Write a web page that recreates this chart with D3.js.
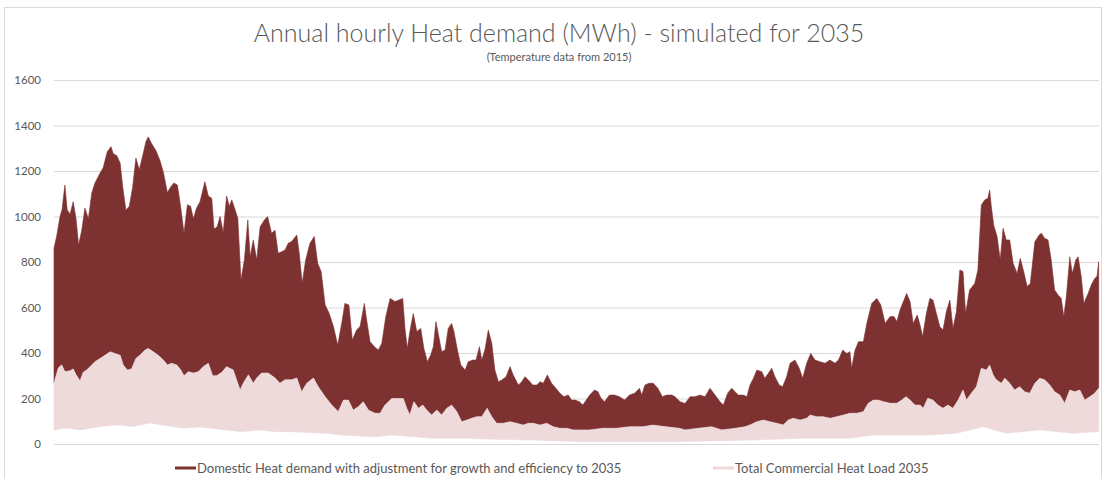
<!DOCTYPE html>
<html>
<head>
<meta charset="utf-8">
<script src="https://cdn.jsdelivr.net/npm/d3@7"></script>
<style>
  body { margin: 0; background: #fff; }
  svg { display: block; font-family: Lato, "Open Sans", sans-serif; }
</style>
</head>
<body>
<figure id="chart" style="margin:0;width:1103px;height:479px"></figure>
<script>
// values: [day of year, MWh]
// upper envelope of the domestic hourly series (daily peaks)
const domesticPeak = [
  [0,862],[0.9,911],[2.1,1000],[2.8,1030],[3.8,1138],[4.6,1030],[5.6,1010],[6.7,1065],[7.7,990],[8.6,875],[9.7,940],[10.8,1037],[12,990],[13.2,1103],[14.3,1147],[16.1,1191],[17.2,1215],[18.6,1285],[19.9,1307],[20.7,1276],[21.9,1268],[23.1,1235],[24,1131],[25.1,1028],[26.3,1045],[27.5,1131],[28.6,1257],[29.8,1206],[31,1268],[32.1,1329],[32.9,1350],[34.1,1320],[35.6,1290],[37,1246],[38.2,1195],[39.6,1106],[40.8,1131],[41.9,1147],[43.1,1138],[44.3,1037],[45.4,927],[46.6,1052],[47.7,1045],[48.7,990],[49.8,1037],[51,1065],[52.7,1153],[53.9,1090],[55.1,1080],[55.9,945],[57,955],[58,1000],[59.1,930],[60.3,1090],[61.2,1045],
  [62.1,1073],[63,1040],[64.2,992],[65.3,721],[66.5,809],[67.7,985],[68.5,823],[69.6,897],[70.8,809],[72,955],[73.5,985],[74.6,1000],[76,926],[77.2,940],[78.3,838],[79.5,845],[80.7,853],[81.8,882],[83,890],[84.8,919],[85.6,845],[86.7,707],[87.9,809],[89.4,882],[90.9,912],[92.1,794],[93.3,758],[94.7,611],[96.1,575],[97.6,516],[99.1,435],[100.5,531],[101.6,618],[103,611],[104.2,457],[105.7,501],[106.9,516],[108.4,618],[109.2,545],[110.4,450],[111.9,428],[113.3,413],[114.5,443],[115.9,560],[117.4,640],[119.1,626],[120.5,633],
  [121.8,640],[122.6,508],[123.4,420],[124.3,494],[125.5,574],[126.7,494],[128.1,508],[129.2,420],[130.4,362],[131.6,391],[132.5,428],[133.4,538],[134.2,486],[135.4,406],[136.6,413],[137.7,508],[138.9,530],[139.7,494],[140.9,413],[142.1,347],[143.6,325],[144.7,362],[146.3,369],[147.4,369],[148.6,428],[149.4,369],[150.5,413],[151.7,501],[152.9,443],[154,325],[155.2,274],[156.4,281],[157.9,296],[159.3,340],[160.4,303],[162.2,259],[163.4,274],[164.5,296],[165.7,281],[167.2,259],[168.6,259],[169.8,274],[170.9,267],[172.3,303],[173.8,267],[175.3,245],[176.7,223],[178.1,208],[179.6,215],[180.8,193],[182,193],[183.5,186],
  [184.7,171],[185.9,193],[187.1,215],[188.8,237],[190,230],[191.1,200],[192.3,186],[194,215],[195.8,215],[197.5,208],[199.3,193],[201,215],[202.8,223],[204.5,245],[205.3,215],[206.4,259],[207.8,267],[209.3,267],[210.9,245],[212.5,208],[214,215],[215.8,215],[216.9,208],[218.7,186],[220.4,178],[222.2,208],[223.9,208],[225.6,215],[227.4,208],[229.1,245],[230.9,215],[232.6,186],[233.8,171],[235.3,223],[236.7,245],[237.9,230],[239,215],[240.8,215],[242,208],[243.1,259],[244.3,289],
  [245.5,325],[247.2,318],[248.3,289],[249.5,311],[250.7,333],[251.8,296],[253.3,259],[254.5,252],[255.9,296],[257.1,355],[258.8,369],[260.3,333],[261.5,289],[262.9,355],[264.3,398],[265.8,369],[267.5,362],[269.3,355],[271,369],[272.8,355],[274,369],[275.5,413],[276.9,398],[278,406],[278.6,333],[279.8,413],[281,450],[282.7,450],[283.9,530],[285.6,618],[287.4,640],[288.8,611],[290.3,530],[292,560],[293.4,560],[294.4,538],[295.5,589],[296.9,633],[297.8,662],[299,626],[300.1,530],[301.5,567],[302.5,523],[303.4,472],
  [304.7,574],[305.9,640],[307,633],[308.2,574],[309.4,516],[310.5,501],[311.7,582],[312.9,633],[314,509],[315.2,582],[316.4,765],[317.5,758],[318.4,574],[319.8,677],[321.6,706],[322.7,765],[323.9,1051],[325.1,1073],[326.2,1080],[326.8,1117],[327.4,1043],[328.2,963],[329.4,912],[330.5,809],[331.5,948],[332.6,897],[333.8,897],[335,794],[336.4,750],[337.5,816],[338.7,758],[339.9,692],[341,706],[342.6,889],[344.1,919],[344.9,926],[346,904],[347.2,897],[348.3,809],[349.5,677],[350.7,655],[351.8,640],[352.7,560],[353.6,648],[354.8,823],[355.7,750],[356.9,809],[357.7,823],[358.8,736],[359.7,618],[361.2,662],[362.3,699],[363.5,728],[364.3,736],[364.9,801]
]

// upper envelope of the commercial hourly series
const commercialPeak = [
  [0,268],[1.5,334],[2.7,348],[3.8,318],[5.6,322],[6.7,330],[7.9,300],[9.1,278],[10.2,315],[11.4,325],[12.6,340],[14.3,362],[16.1,376],[17.8,390],[19.6,405],[21.3,398],[23.1,390],[24.2,347],[25.6,325],[27.1,330],[28.6,376],[30,390],[31.8,413],[32.9,420],[34.7,405],[36.4,390],[38.2,369],[39.6,347],[41.1,355],[42.9,347],[44.3,325],[45.4,300],[46.9,318],[48.7,312],[50.4,318],[52.1,340],[53.9,355],[55.4,300],[56.8,300],[58.6,315],[60.3,340],
  [62.6,325],[65,237],[66.1,267],[67.9,304],[69.6,267],[70.8,290],[72.5,312],[74.8,312],[77.2,290],[78.9,267],[80.7,282],[83,282],[84.8,290],[86.5,230],[88.3,267],[90.6,290],[92.3,252],[94.7,208],[97,171],[99.3,142],[101.1,193],[102.8,193],[104.5,149],[106.3,164],[108,186],[109.8,149],[112.1,135],[113.9,135],[115.6,171],[118,200],[120.3,200],
  [122,200],[123.2,157],[124.3,127],[125.7,186],[127.3,157],[128.8,171],[130.2,149],[131.9,127],[133.7,149],[135.4,127],[137.2,157],[138.9,171],[140.7,142],[142.4,98],[144.2,105],[145.9,113],[147.6,120],[149.4,120],[151.3,157],[152.9,120],[154.6,91],[156.9,91],[159.3,98],[161.6,91],[163.9,83],[165.7,91],[167.4,91],[169.8,83],[172.1,91],[174.4,76],[176.7,69],[179.1,69],[181.4,62],
  [187.1,62],[191.7,69],[196.4,69],[201,76],[205.7,76],[209.1,83],[213.7,76],[218.4,69],[220.4,62],[225,69],[229.7,76],[233.2,62],[237.9,69],[241.4,76],
  [243.1,84],[245.5,98],[247.8,105],[250.1,98],[252.4,91],[254.7,84],[256.5,105],[258.2,113],[260.6,105],[262.9,113],[264.1,127],[266.4,120],[268.7,120],[271.1,113],[273.4,120],[275.7,127],[278,135],[280.4,135],[282.7,142],[284.4,179],[286.2,193],[287.9,193],[289.7,186],[292,179],[294.4,179],[296.1,193],[297.6,208],[299,193],[300.7,171],[302.5,171],[303.6,157],
  [305.2,201],[307,193],[308.7,171],[310.5,157],[312.2,171],[314,157],[315.8,193],[317.5,237],[318.7,193],[320.4,223],[322.2,252],[323.9,333],[325.7,325],[326.8,347],[328,304],[329.1,282],[330.9,267],[332.1,289],[333.8,267],[335.5,237],[337.3,252],[339,230],[340.8,223],[342.6,267],[344.3,289],[346,282],[347.8,259],[349.5,230],[351.3,215],[353,179],[354.8,237],[356.5,230],[358.3,237],[360,193],[361.8,208],[363.5,223],[364.9,245]
]

// lower envelope of the commercial hourly series (night-time minima)
const commercialBase = [
  [0,62],[4.4,70],[9.1,62],[16.1,77],[21.9,84],[27.7,77],[33.5,92],[39.4,80],[45.2,70],[51,75],[56.8,66],
  [65.6,54],[71.4,62],[77.2,54],[83,54],[94.7,47],[100.5,40],[106.3,35],[112.1,32],[118,40],
  [132.5,25],[144.2,25],[155.8,20],[167.4,18],[183.5,10],[216.9,10],[244.5,18],
  [260.6,25],[278,25],[286.2,40],[295.5,40],[305.6,40],[315.2,47],[324.5,76],[332.6,47],[344.3,62],[355.9,47],[364.9,55]
]

const yTicks = [0, 200, 400, 600, 800, 1000, 1200, 1400, 1600]
const seriesNames = [
  "Domestic Heat demand with adjustment for growth and efficiency to 2035",
  "Total Commercial Heat Load 2035"
]
const seriesColors = ["#7e3131", "#eedadb"]

const width = 1103, height = 479
const margin = { top: 80, right: 4, bottom: 35, left: 54 }

const svg = d3.select("#chart").append("svg")
  .attr("width", width)
  .attr("height", height)

// chart frame
svg.append("rect")
  .attr("x", 4.5).attr("y", 7.5)
  .attr("width", width - 6).attr("height", height - 6)
  .attr("fill", "none")
  .attr("stroke", "#d9d9d9")

const x = d3.scaleLinear()
  .domain([0, 365])
  .range([margin.left, width - margin.right])

const y = d3.scaleLinear()
  .domain([0, 1600])
  .range([height - margin.bottom, margin.top])

const yAxis = d3.axisLeft(y)
  .tickValues(yTicks)
  .tickFormat(d3.format("d"))
  .tickSize(-(x.range()[1] - x.range()[0]))
  .tickPadding(13)

svg.append("g")
  .attr("class", "yaxis")
  .attr("transform", `translate(${margin.left},0)`)
  .call(yAxis)
  .call(g => g.select(".domain").remove())
  .call(g => g.selectAll("line").attr("stroke", "#d9d9d9"))
  .call(g => g.selectAll("text")
    .attr("fill", "#595959")
    .style("font-size", "11.5px")
    .style("font-family", "Lato, sans-serif"))

const line = d3.line()
  .x(d => x(d[0]))
  .y(d => y(d[1]))

// domestic band: peaks down to the top of the commercial band
svg.append("path")
  .attr("d", line([...domesticPeak, ...commercialPeak.slice().reverse()]) + "Z")
  .attr("fill", seriesColors[0])
  .attr("stroke", seriesColors[0])
  .attr("stroke-width", 0.6)

// commercial band
svg.append("path")
  .attr("d", line([...commercialPeak, ...commercialBase.slice().reverse()]) + "Z")
  .attr("fill", seriesColors[1])
  .attr("stroke", seriesColors[1])
  .attr("stroke-width", 0.6)

// title
svg.append("text")
  .attr("x", 559).attr("y", 42)
  .attr("text-anchor", "middle")
  .attr("fill", "#595959")
  .style("font-size", "25px")
  .style("font-weight", 300)
  .text("Annual hourly Heat demand (MWh) - simulated for 2035")

svg.append("text")
  .attr("x", 559).attr("y", 61)
  .attr("text-anchor", "middle")
  .attr("fill", "#595959")
  .style("font-size", "11px")
  .text("(Temperature data from 2015)")

// legend
const legendX = [175, 713]
const legend = svg.selectAll("g.legend")
  .data(seriesNames)
  .join("g")
  .attr("class", "legend")
  .attr("transform", (d, i) => `translate(${legendX[i]}, 468)`)

legend.append("line")
  .attr("x1", 0).attr("x2", 21)
  .attr("stroke", (d, i) => seriesColors[i])
  .attr("stroke-width", 3)

legend.append("text")
  .attr("x", 22)
  .attr("dy", "0.35em")
  .attr("fill", "#595959")
  .style("font-size", "13px")
  .text(d => d)
</script>
</body>
</html>
